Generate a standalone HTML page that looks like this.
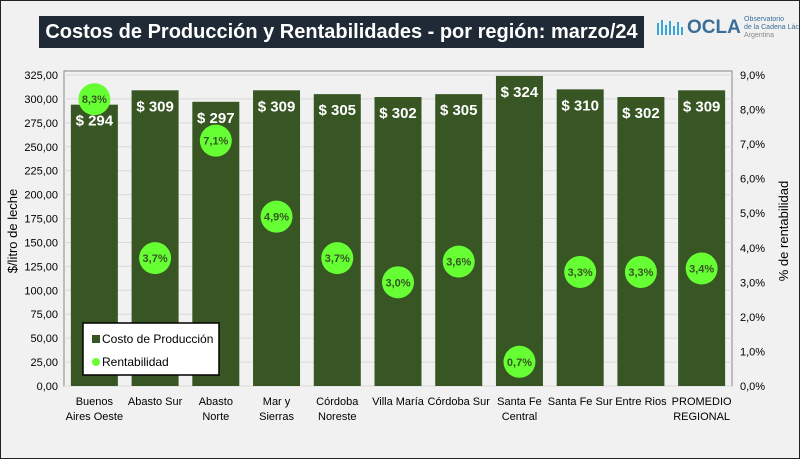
<!DOCTYPE html>
<html><head><meta charset="utf-8"><style>
body{margin:0;background:#fff;}
#wrap{position:relative;width:798px;height:457px;border:1px solid #222;background:#f1f1f1;font-family:"Liberation Sans",sans-serif;overflow:hidden}
#title{position:absolute;left:38px;top:15px;width:605px;height:32px;background:#1f2a36;color:#fff;font-weight:bold;font-size:20px;line-height:32px;text-align:center;font-family:"Liberation Sans Narrow","Liberation Sans",sans-serif}
</style></head><body>
<div id="wrap">
<div id="title">Costos de Producción y Rentabilidades - por región: marzo/24</div>
<div style="position:absolute;left:655px;top:14px;width:140px;height:30px">
<svg width="30" height="22" style="position:absolute;left:0;top:2px"><path d="M2 18 V6 M6 18 V3 M10 18 V8 M14 18 V4 M18 18 V9 M22 18 V5 M26 18 V10" stroke="#3aa6d8" stroke-width="2" fill="none"/></svg>
<span style="position:absolute;left:31px;top:2px;font-size:19px;font-weight:bold;color:#3b6f9a">OCLA</span>
<span style="position:absolute;left:88px;top:1px;font-size:7px;line-height:8px;color:#3b6f9a;white-space:nowrap">Observatorio<br>de la Cadena Láctea<br><span style="color:#888">Argentina</span></span>
</div>
<svg id="chart" width="798" height="457" style="position:absolute;left:0;top:0"></svg>
</div>
<script>
const categories=[["Buenos","Aires Oeste"],["Abasto Sur"],["Abasto","Norte"],["Mar y","Sierras"],["Córdoba","Noreste"],["Villa María"],["Córdoba Sur"],["Santa Fe","Central"],["Santa Fe Sur"],["Entre Rios"],["PROMEDIO","REGIONAL"]];
const costs=[294,309,297,309,305,302,305,324,310,302,309];
const rent=[8.3,3.7,7.1,4.9,3.7,3.0,3.6,0.7,3.3,3.3,3.4];
const leftTicks=[0,25,50,75,100,125,150,175,200,225,250,275,300,325];
const rightTicks=[0,1,2,3,4,5,6,7,8,9];
const NS="http://www.w3.org/2000/svg";
const svg=document.getElementById('chart');
const X0=63,X1=731,Y0=385,Y1=74;
const yL=v=>Y0-(v/325)*(Y0-Y1);
const yR=v=>Y0-(v/9)*(Y0-Y1);
const band=(X1-X0)/categories.length;
const xc=i=>X0+band*(i+0.5);
function mk(t,a,txt){const e=document.createElementNS(NS,t);for(const k in a)e.setAttribute(k,a[k]);if(txt!==undefined)e.textContent=txt;svg.appendChild(e);return e;}
let fr=mk('rect',{x:X0,y:70,width:X1-X0,height:Y0-70,fill:'#f1f1f1',stroke:'#888'});


leftTicks.forEach(v=>{
 const g=mk('line',{x1:X0,x2:X1,y1:yL(v),y2:yL(v),stroke:'#d9d9d9'});
 
 
 const t=mk('text',{x:X0-6,y:yL(v)+4,'text-anchor':'end','font-size':11,fill:'#000','font-family':'Liberation Sans Narrow, Liberation Sans, sans-serif'},v.toFixed(2).replace('.',','));
 
 
});
rightTicks.forEach(v=>{
 const t=mk('text',{x:X1+8,y:yR(v)+4,'font-size':11,fill:'#000'},v.toFixed(1).replace('.',',')+'%');
 
 
});
let yt=mk('text',{transform:`translate(16,230) rotate(-90)`,'text-anchor':'middle','font-size':13,fill:'#000'},'$/litro de leche');


let yt2=mk('text',{transform:`translate(787,230) rotate(-90)`,'text-anchor':'middle','font-size':13,fill:'#000'},'% de rentabilidad');


const bw=47;
costs.forEach((v,i)=>{
 const r=mk('rect',{x:xc(i)-bw/2,y:yL(v),width:bw,height:Y0-yL(v),fill:'#375623'});
 
 
 const t=mk('text',{x:xc(i),y:yL(v)+21,'text-anchor':'middle','font-size':15,'font-weight':'bold',fill:'#fff'},'$ '+v);
 
 
});
rent.forEach((v,i)=>{
 const c=mk('circle',{cx:xc(i),cy:yR(v),r:16,fill:'#66ff33'});
 
 
 const t=mk('text',{x:xc(i),y:yR(v)+4,'text-anchor':'middle','font-size':11,'font-weight':'bold',fill:'#375623'},v.toFixed(1).replace('.',',')+'%');
 
 
});
categories.forEach((c,i)=>{
 c.forEach((ln,j)=>{
  const t=mk('text',{x:xc(i),y:404+j*15,'text-anchor':'middle','font-size':11,fill:'#000'},ln);
  
  
 });
});
let lg=mk('rect',{x:82,y:322,width:136,height:52,fill:'#fff',stroke:'#000','stroke-width':1.5});


let l1=mk('rect',{x:91,y:334,width:8,height:8,fill:'#375623'});


let lt1=mk('text',{x:101,y:342,'font-size':12,fill:'#000'},'Costo de Producción');


let l2=mk('circle',{cx:95,cy:361,r:4,fill:'#66ff33'});


let lt2=mk('text',{x:101,y:365,'font-size':12,fill:'#000'},'Rentabilidad');


</script>
</body></html>
